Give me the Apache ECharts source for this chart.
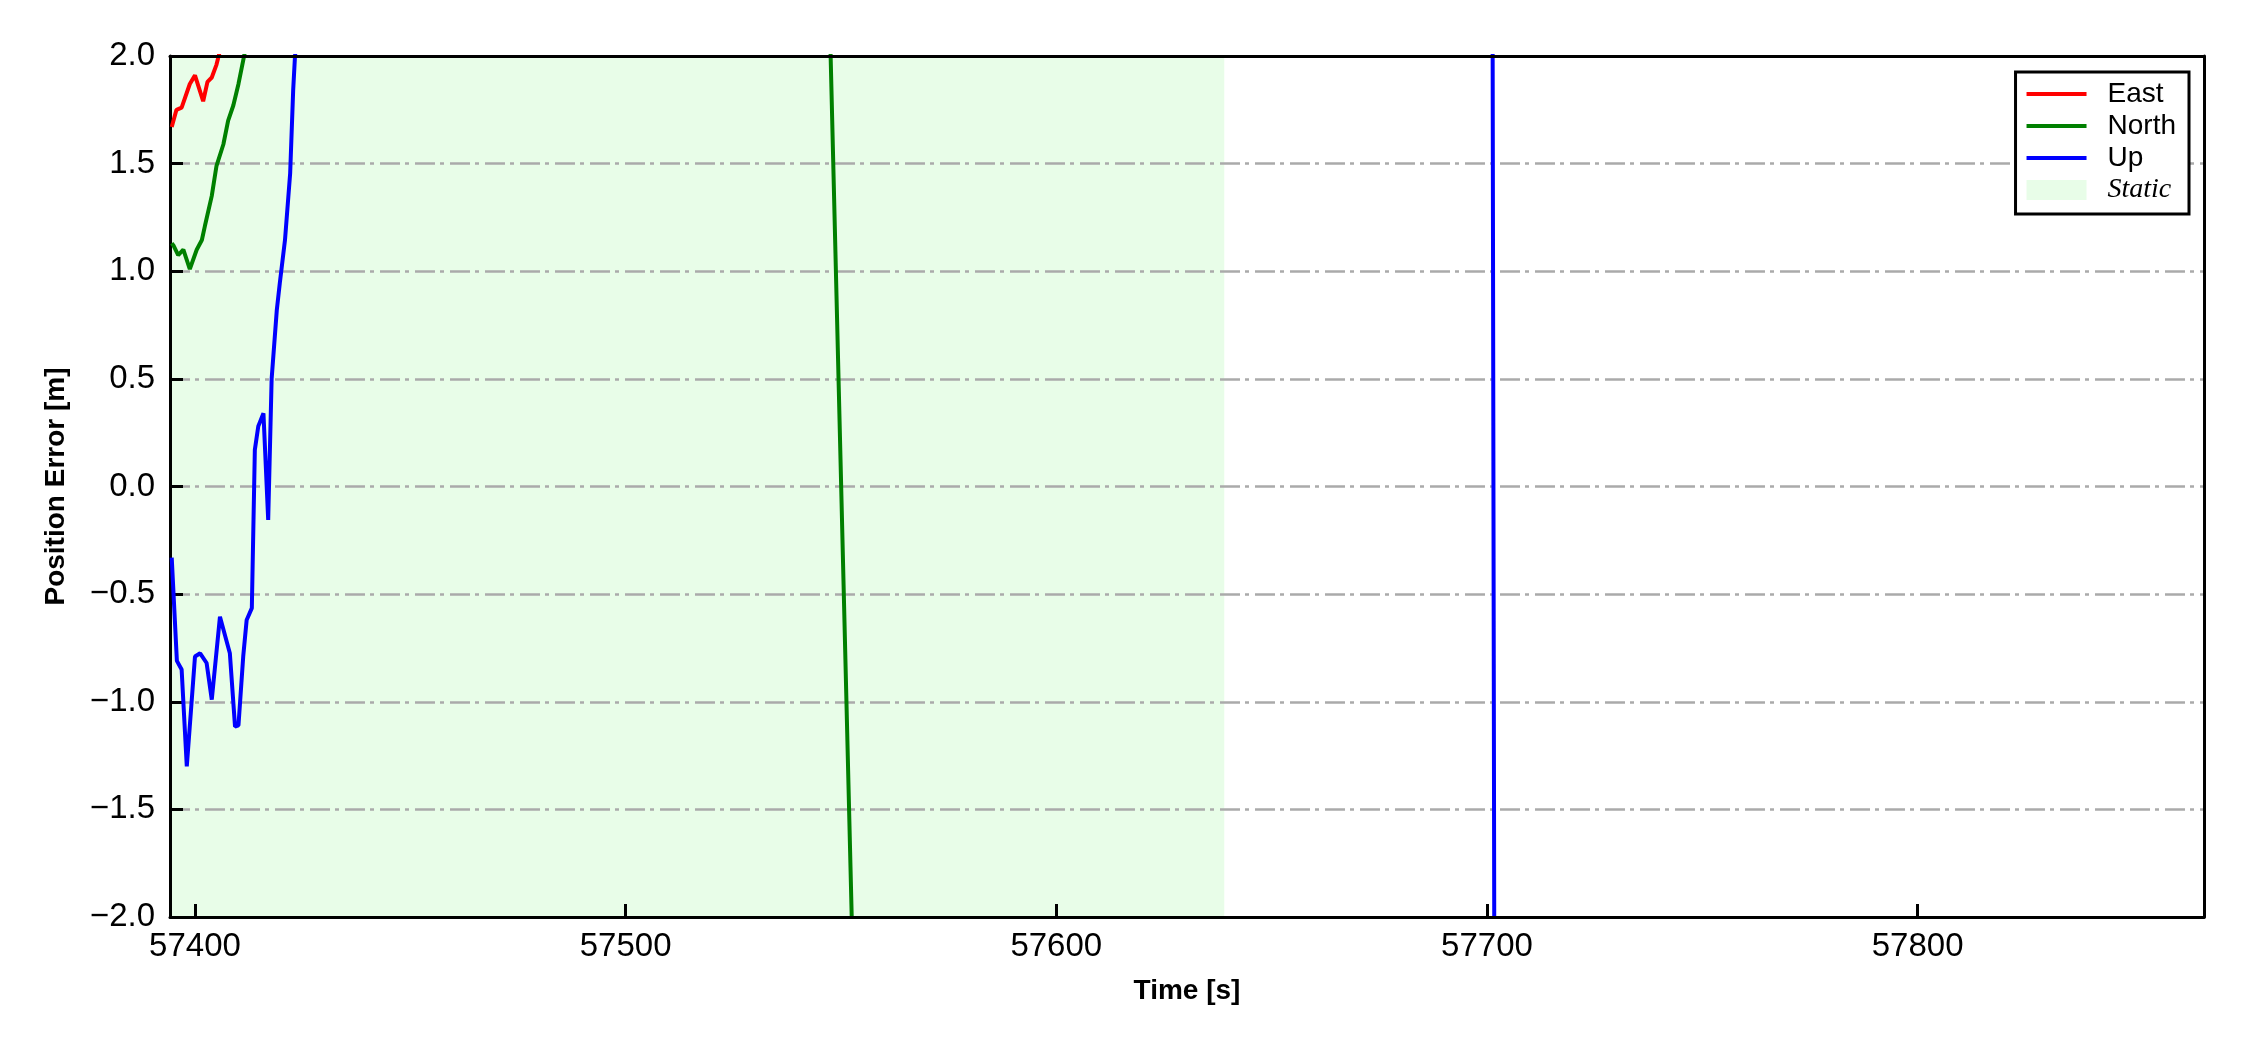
<!DOCTYPE html>
<html>
<head>
<meta charset="utf-8">
<script src="https://cdn.jsdelivr.net/npm/echarts@6/dist/echarts.min.js"></script>
<style>
html,body{margin:0;padding:0;background:#fff;}
#chart{width:2250px;height:1050px;}
</style>
</head>
<body>
<div id="chart"></div>
<script>
// ---- data (time in seconds, position error in metres) ----
const eastT = [57394.6, 57395.7, 57396.9, 57398.8, 57400.0, 57401.9, 57402.9, 57403.9, 57405.0, 57406.0, 57420, 57500, 57600, 57700, 57866.5];
const eastV = [1.67, 1.75, 1.76, 1.87, 1.91, 1.79, 1.88, 1.90, 1.96, 2.04, 2.6, 3.5, 4.2, 4.8, 5.5];

const northT = [57394.6, 57395.0, 57396.1, 57397.3, 57398.8, 57400.4, 57401.6, 57402.3, 57403.9, 57405.0, 57406.6, 57407.7, 57408.9, 57410.1, 57411.2, 57412.0, 57430, 57480, 57547.0, 57553.0, 57600, 57700, 57866.5];
const northV = [1.13, 1.12, 1.075, 1.10, 1.01, 1.10, 1.145, 1.21, 1.35, 1.49, 1.59, 1.70, 1.77, 1.87, 1.98, 2.06, 3.2, 4.5, 2.49, -2.41, -4.0, -5.5, -6.5];

const upT = [57394.6, 57395.8, 57396.9, 57398.1, 57400.0, 57401.2, 57402.7, 57403.9, 57405.8, 57408.1, 57409.3, 57410.1, 57411.2, 57412.0, 57413.2, 57413.9, 57414.7, 57415.1, 57415.9, 57417.0, 57417.8, 57419.0, 57419.7, 57420.9, 57422.1, 57422.8, 57423.2, 57424.0, 57450, 57550, 57650, 57701.0, 57702.0, 57750, 57866.5];
const upV = [-0.33, -0.81, -0.85, -1.30, -0.79, -0.775, -0.82, -0.99, -0.605, -0.775, -1.115, -1.11, -0.79, -0.62, -0.565, 0.17, 0.28, 0.30, 0.34, -0.155, 0.50, 0.82, 0.945, 1.145, 1.455, 1.84, 1.99, 2.2, 4.0, 6.0, 7.0, 5.5, -5.3, -7.0, -8.0];

const staticRange = [57394.2, 57639];
const xRange = [57394.2, 57866.5];
const xTicks = [57400, 57500, 57600, 57700, 57800];
const yTicks = [-2.0, -1.5, -1.0, -0.5, 0.0, 0.5, 1.0, 1.5, 2.0];
const seriesNames = ['East', 'North', 'Up', 'Static'];
const seriesColors = ['#ff0000', '#008000', '#0000ff', '#e8fde8'];

const zip = (t, v) => t.map((x, i) => [x, v[i]]);
const fmtY = v => (v < 0 ? '\u2212' : '') + Math.abs(v).toFixed(1);

const FONT = "'Liberation Sans', Arial, sans-serif";
const chart = echarts.init(document.getElementById('chart'), null, {renderer: 'canvas'});

const lineSeries = (name, data, color) => ({
  name, type: 'line', data, showSymbol: false, symbol: 'none', clip: true,
  lineStyle: {color, width: 4}, itemStyle: {color}, z: 2, animation: false
});
const LINE_ICON = 'path://M0,0L60,0L60,4L0,4Z';

chart.setOption({
  backgroundColor: '#fff',
  animation: false,
  grid: {left: 170, right: 46, top: 56, bottom: 133, containLabel: false},
  legend: {
    orient: 'vertical', right: 61, top: 72,
    backgroundColor: '#fff', borderColor: '#000', borderWidth: 3,
    padding: [8, 13, 10, 11], itemGap: 4, itemWidth: 60, itemHeight: 20,
    align: 'left',
    textStyle: {fontFamily: FONT, fontSize: 28, color: '#000', padding: [0, 0, 0, 16]},
    data: [
      {name: seriesNames[0], icon: LINE_ICON},
      {name: seriesNames[1], icon: LINE_ICON},
      {name: seriesNames[2], icon: LINE_ICON},
      {name: seriesNames[3], icon: 'rect', textStyle: {fontFamily: "'Liberation Serif', 'Times New Roman', serif", fontStyle: 'italic', fontSize: 28, color: '#000'}}
    ]
  },
  xAxis: [{
    type: 'value', min: xRange[0], max: xRange[1], z: 3,
    name: 'Time [s]', nameLocation: 'middle', nameGap: 60,
    nameTextStyle: {fontFamily: FONT, fontSize: 28, fontWeight: 'bold', color: '#000'},
    axisLine: {show: true, onZero: false, lineStyle: {color: '#000', width: 3}},
    axisTick: {show: true, inside: true, length: 13, lineStyle: {color: '#000', width: 3}},
    axisLabel: {
      fontFamily: FONT, fontSize: 33, color: '#000', margin: 13,
      showMinLabel: false, showMaxLabel: false,
      formatter: v => (xTicks.indexOf(Math.round(v * 10) / 10) >= 0 ? String(v) : '')
    },
    splitLine: {show: false}
  }, {
    type: 'value', position: 'top', min: xRange[0], max: xRange[1], z: 3,
    axisLine: {show: true, onZero: false, lineStyle: {color: '#000', width: 3}},
    axisTick: {show: false}, axisLabel: {show: false}, splitLine: {show: false}
  }],
  yAxis: [{
    type: 'value', min: yTicks[0], max: yTicks[yTicks.length - 1], interval: 0.5, z: 1,
    name: 'Position Error [m]', nameLocation: 'middle', nameGap: 100, nameRotate: 90,
    nameTextStyle: {fontFamily: FONT, fontSize: 28, fontWeight: 'bold', color: '#000'},
    axisLine: {show: true, onZero: false, lineStyle: {color: '#000', width: 3}},
    axisTick: {show: true, inside: true, length: 13, lineStyle: {color: '#000', width: 3}},
    axisLabel: {fontFamily: FONT, fontSize: 33, color: '#000', margin: 15, formatter: fmtY},
    splitLine: {show: true, lineStyle: {color: '#aaaaaa', width: 2.5, type: [20, 5, 4, 6]}}
  }, {
    type: 'value', position: 'right', min: yTicks[0], max: yTicks[yTicks.length - 1], z: 3,
    axisLine: {show: true, onZero: false, lineStyle: {color: '#000', width: 3}},
    axisTick: {show: false}, axisLabel: {show: false}, splitLine: {show: false}
  }],
  series: [
    lineSeries(seriesNames[0], zip(eastT, eastV), seriesColors[0]),
    lineSeries(seriesNames[1], zip(northT, northV), seriesColors[1]),
    lineSeries(seriesNames[2], zip(upT, upV), seriesColors[2]),
    {
      name: seriesNames[3], type: 'line', data: [], z: 0,
      itemStyle: {color: seriesColors[3]}, lineStyle: {color: seriesColors[3]},
      markArea: {
        silent: true, z: 0,
        itemStyle: {color: seriesColors[3]},
        data: [[{xAxis: staticRange[0]}, {xAxis: staticRange[1]}]]
      }
    }
  ]
});
</script>
</body>
</html>
